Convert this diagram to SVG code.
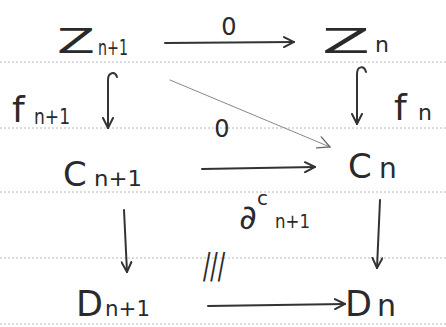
<svg xmlns="http://www.w3.org/2000/svg" width="446" height="327" viewBox="0 0 446 327">
<style>
.rule{stroke:#b8b8b8;stroke-width:1;stroke-dasharray:2 2}
.t{font-family:"DejaVu Sans","Liberation Sans",sans-serif;fill:#2a2a2a}
.big{font-size:34px}
.sub{font-size:22px}
.lab{font-size:24px}
.ink{fill:none;stroke:#333;stroke-width:2;stroke-linecap:round;stroke-linejoin:round}
.thin{fill:none;stroke:#888;stroke-width:1;stroke-linecap:round}
</style>
<defs>
<marker id="ah" viewBox="0 0 12 12" refX="11" refY="6" markerWidth="12" markerHeight="12" markerUnits="userSpaceOnUse" orient="auto">
<path d="M1,1 L11,6 L1,11" fill="none" stroke="#333" stroke-width="2" stroke-linecap="round"/>
</marker>
<marker id="aht" viewBox="0 0 14 14" refX="13" refY="7" markerWidth="14" markerHeight="14" markerUnits="userSpaceOnUse" orient="auto">
<path d="M1,1 L13,7 L1,13" fill="none" stroke="#666" stroke-width="1.3" stroke-linecap="round"/>
</marker>
</defs>
<rect width="446" height="327" fill="#fff"/>
<g id="rules">
<line class="rule" x1="0" y1="62" x2="446" y2="62"/>
<line class="rule" x1="0" y1="128" x2="446" y2="128"/>
<line class="rule" x1="0" y1="192" x2="446" y2="192"/>
<line class="rule" x1="0" y1="258" x2="446" y2="258"/>
<line class="rule" x1="0" y1="324" x2="446" y2="324"/>
</g>
<g id="connectors">
<line class="ink" x1="165" y1="43" x2="294" y2="42" marker-end="url(#ah)"/>
<text class="t lab" x="229" y="35" text-anchor="middle">0</text>
<path class="ink" d="M117,77 C115,71 108,72 108,80 L108,128" marker-end="url(#ah)"/>
<path class="ink" d="M366,72 C364,65 357,66 357,74 L357,124" marker-end="url(#ah)"/>
<line class="thin" x1="170" y1="80" x2="330" y2="147" marker-end="url(#aht)"/>
<text class="t lab" x="222" y="137" text-anchor="middle">0</text>
<line class="ink" x1="202" y1="169" x2="315" y2="167" marker-end="url(#ah)"/>
<text class="t" x="239" y="229" font-size="34px">∂</text>
<text class="t" x="257" y="205" font-size="20px">c</text>
<text class="t" x="275" y="228" font-size="20px" textLength="35" lengthAdjust="spacingAndGlyphs">n+1</text>
<line class="ink" x1="124" y1="210" x2="127" y2="272" marker-end="url(#ah)"/>
<line class="ink" x1="380" y1="200" x2="377" y2="268" marker-end="url(#ah)"/>
<text class="t" transform="translate(214,278) scale(1,1.6)" font-size="22px" text-anchor="middle">///</text>
<line class="ink" x1="208" y1="306" x2="345" y2="304" marker-end="url(#ah)"/>
</g>
<g id="Zn1"><text class="t big" x="57" y="53" textLength="38" lengthAdjust="spacingAndGlyphs">Z</text><text class="t sub" x="98" y="55" textLength="30" lengthAdjust="spacingAndGlyphs">n+1</text></g>
<g id="Zn"><text class="t big" x="322" y="53" textLength="48" lengthAdjust="spacingAndGlyphs">Z</text><text class="t sub" x="375" y="52">n</text></g>
<g id="fn1"><text class="t" font-size="36px" x="12" y="122">f</text><text class="t sub" x="34" y="124" textLength="36" lengthAdjust="spacingAndGlyphs">n+1</text></g>
<g id="fn"><text class="t" font-size="36px" x="394" y="120">f</text><text class="t sub" x="418" y="120">n</text></g>
<g id="Cn1"><text class="t big" x="63" y="186">C</text><text class="t sub" x="94" y="186" textLength="48" lengthAdjust="spacingAndGlyphs">n+1</text></g>
<g id="Cn"><text class="t big" x="348" y="178">C</text><text class="t" font-size="28px" x="379" y="178">n</text></g>
<g id="Dn1"><text class="t" font-size="35px" x="76" y="316">D</text><text class="t sub" x="105" y="316" textLength="45" lengthAdjust="spacingAndGlyphs">n+1</text></g>
<g id="Dn"><text class="t" font-size="35px" x="345" y="316">D</text><text class="t" font-size="30px" x="377" y="316">n</text></g>
</svg>
